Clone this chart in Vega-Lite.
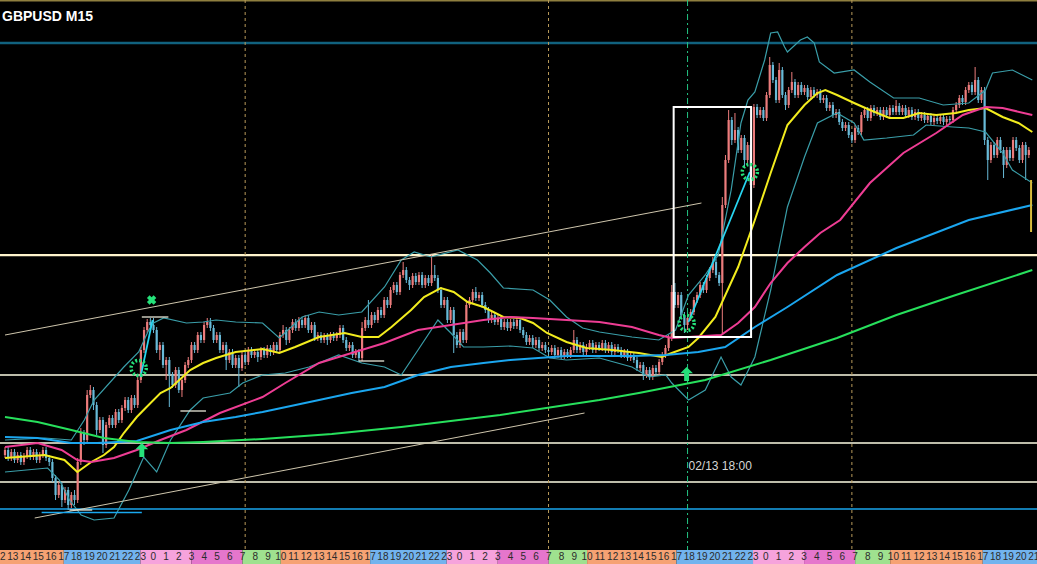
{
"$schema": "https://vega.github.io/schema/vega-lite/v6.json",
"background": "#000000",
"padding": 0,
"spacing": 0,
"config": {"view": {"stroke": null}},
"datasets": {
"candles": [
{"i":0,"o":1.23725,"h":1.23765,"l":1.2371,"c":1.2375},{"i":1,"o":1.2375,"h":1.23765,"l":1.23695,"c":1.2371},{"i":2,"o":1.2371,"h":1.23755,"l":1.23695,"c":1.2374},{"i":3,"o":1.2374,"h":1.23755,"l":1.23685,"c":1.237},{"i":4,"o":1.237,"h":1.2374,"l":1.23685,"c":1.23725},{"i":5,"o":1.23725,"h":1.2374,"l":1.23675,"c":1.2369},{"i":6,"o":1.2369,"h":1.23735,"l":1.23675,"c":1.2372},{"i":7,"o":1.2372,"h":1.23765,"l":1.23705,"c":1.2375},{"i":8,"o":1.2375,"h":1.23765,"l":1.237,"c":1.23715},{"i":9,"o":1.23715,"h":1.23755,"l":1.237,"c":1.2374},
{"i":10,"o":1.2374,"h":1.23755,"l":1.23685,"c":1.237},{"i":11,"o":1.237,"h":1.2374,"l":1.23685,"c":1.23725},{"i":12,"o":1.23725,"h":1.23765,"l":1.2371,"c":1.2375},{"i":13,"o":1.2375,"h":1.23765,"l":1.23695,"c":1.2371},{"i":14,"o":1.2371,"h":1.23725,"l":1.2367,"c":1.2369},{"i":15,"o":1.2369,"h":1.23705,"l":1.2359,"c":1.2361},{"i":16,"o":1.2361,"h":1.23625,"l":1.235,"c":1.23525},{"i":17,"o":1.23525,"h":1.2359,"l":1.2351,"c":1.23575},{"i":18,"o":1.23575,"h":1.2359,"l":1.23465,"c":1.235},{"i":19,"o":1.235,"h":1.23565,"l":1.23485,"c":1.2355},
{"i":20,"o":1.2355,"h":1.23565,"l":1.2345,"c":1.23475},{"i":21,"o":1.23475,"h":1.2354,"l":1.2346,"c":1.23525},{"i":22,"o":1.23525,"h":1.2355,"l":1.23475,"c":1.235},{"i":23,"o":1.235,"h":1.2371,"l":1.23485,"c":1.2369},{"i":24,"o":1.2369,"h":1.2386,"l":1.23675,"c":1.23835},{"i":25,"o":1.23835,"h":1.2385,"l":1.23775,"c":1.238},{"i":26,"o":1.238,"h":1.2405,"l":1.23785,"c":1.24025},{"i":27,"o":1.24025,"h":1.24075,"l":1.2401,"c":1.2405},{"i":28,"o":1.2405,"h":1.24065,"l":1.2395,"c":1.23975},{"i":29,"o":1.23975,"h":1.2399,"l":1.23825,"c":1.2385},
{"i":30,"o":1.2385,"h":1.23915,"l":1.23835,"c":1.239},{"i":31,"o":1.239,"h":1.23915,"l":1.23735,"c":1.23775},{"i":32,"o":1.23775,"h":1.2389,"l":1.2376,"c":1.23875},{"i":33,"o":1.23875,"h":1.23925,"l":1.2386,"c":1.2391},{"i":34,"o":1.2391,"h":1.23925,"l":1.2386,"c":1.23875},{"i":35,"o":1.23875,"h":1.23955,"l":1.2386,"c":1.2394},{"i":36,"o":1.2394,"h":1.23955,"l":1.23885,"c":1.239},{"i":37,"o":1.239,"h":1.23975,"l":1.23885,"c":1.2396},{"i":38,"o":1.2396,"h":1.24015,"l":1.23945,"c":1.24},{"i":39,"o":1.24,"h":1.24015,"l":1.23935,"c":1.2395},
{"i":40,"o":1.2395,"h":1.24025,"l":1.23935,"c":1.2401},{"i":41,"o":1.2401,"h":1.24025,"l":1.2396,"c":1.23975},{"i":42,"o":1.23975,"h":1.24115,"l":1.2396,"c":1.241},{"i":43,"o":1.241,"h":1.24265,"l":1.24085,"c":1.2425},{"i":44,"o":1.2425,"h":1.24365,"l":1.24235,"c":1.2435},{"i":45,"o":1.2435,"h":1.24405,"l":1.24335,"c":1.2439},{"i":46,"o":1.2439,"h":1.2441,"l":1.2436,"c":1.24375},{"i":47,"o":1.24375,"h":1.2441,"l":1.24335,"c":1.2435},{"i":48,"o":1.2435,"h":1.24365,"l":1.24235,"c":1.2425},{"i":49,"o":1.2425,"h":1.2429,"l":1.242,"c":1.24275},
{"i":50,"o":1.24275,"h":1.2429,"l":1.2416,"c":1.24175},{"i":51,"o":1.24175,"h":1.24215,"l":1.241,"c":1.242},{"i":52,"o":1.242,"h":1.24215,"l":1.23965,"c":1.24125},{"i":53,"o":1.24125,"h":1.2414,"l":1.2406,"c":1.24075},{"i":54,"o":1.24075,"h":1.24165,"l":1.2406,"c":1.2415},{"i":55,"o":1.2415,"h":1.24165,"l":1.24035,"c":1.2405},{"i":56,"o":1.2405,"h":1.24115,"l":1.24015,"c":1.241},{"i":57,"o":1.241,"h":1.2419,"l":1.24085,"c":1.24175},{"i":58,"o":1.24175,"h":1.24215,"l":1.2416,"c":1.242},{"i":59,"o":1.242,"h":1.2429,"l":1.24185,"c":1.24275},
{"i":60,"o":1.24275,"h":1.2429,"l":1.24235,"c":1.2425},{"i":61,"o":1.2425,"h":1.2434,"l":1.24235,"c":1.24325},{"i":62,"o":1.24325,"h":1.2434,"l":1.24285,"c":1.243},{"i":63,"o":1.243,"h":1.2439,"l":1.24285,"c":1.24375},{"i":64,"o":1.24375,"h":1.2441,"l":1.2436,"c":1.2439},{"i":65,"o":1.2439,"h":1.2441,"l":1.24345,"c":1.2436},{"i":66,"o":1.2436,"h":1.24375,"l":1.24285,"c":1.243},{"i":67,"o":1.243,"h":1.2434,"l":1.24285,"c":1.24325},{"i":68,"o":1.24325,"h":1.2434,"l":1.24235,"c":1.2425},{"i":69,"o":1.2425,"h":1.2429,"l":1.24235,"c":1.24275},
{"i":70,"o":1.24275,"h":1.2429,"l":1.2415,"c":1.242},{"i":71,"o":1.242,"h":1.24255,"l":1.24185,"c":1.2424},{"i":72,"o":1.2424,"h":1.24255,"l":1.2416,"c":1.24175},{"i":73,"o":1.24175,"h":1.24225,"l":1.2416,"c":1.2421},{"i":74,"o":1.2421,"h":1.24225,"l":1.24065,"c":1.2416},{"i":75,"o":1.2416,"h":1.2424,"l":1.24145,"c":1.24225},{"i":76,"o":1.24225,"h":1.2424,"l":1.24175,"c":1.2419},{"i":77,"o":1.2419,"h":1.24265,"l":1.24175,"c":1.2425},{"i":78,"o":1.2425,"h":1.24265,"l":1.2421,"c":1.24225},{"i":79,"o":1.24225,"h":1.24255,"l":1.2421,"c":1.2424},
{"i":80,"o":1.2424,"h":1.24255,"l":1.2419,"c":1.24215},{"i":81,"o":1.24215,"h":1.24265,"l":1.242,"c":1.2425},{"i":82,"o":1.2425,"h":1.24265,"l":1.2421,"c":1.24225},{"i":83,"o":1.24225,"h":1.24275,"l":1.2421,"c":1.2426},{"i":84,"o":1.2426,"h":1.24275,"l":1.2422,"c":1.2424},{"i":85,"o":1.2424,"h":1.2429,"l":1.24225,"c":1.24275},{"i":86,"o":1.24275,"h":1.2429,"l":1.24235,"c":1.2425},{"i":87,"o":1.2425,"h":1.2434,"l":1.24235,"c":1.24325},{"i":88,"o":1.24325,"h":1.24375,"l":1.2431,"c":1.2435},{"i":89,"o":1.2435,"h":1.24365,"l":1.24275,"c":1.243},
{"i":90,"o":1.243,"h":1.24365,"l":1.24285,"c":1.2435},{"i":91,"o":1.2435,"h":1.24405,"l":1.24335,"c":1.2439},{"i":92,"o":1.2439,"h":1.24405,"l":1.24345,"c":1.2436},{"i":93,"o":1.2436,"h":1.24415,"l":1.24345,"c":1.244},{"i":94,"o":1.244,"h":1.24415,"l":1.2436,"c":1.24375},{"i":95,"o":1.24375,"h":1.24425,"l":1.2436,"c":1.2441},{"i":96,"o":1.2441,"h":1.24425,"l":1.24335,"c":1.2435},{"i":97,"o":1.2435,"h":1.2439,"l":1.24335,"c":1.24375},{"i":98,"o":1.24375,"h":1.2439,"l":1.24295,"c":1.2431},{"i":99,"o":1.2431,"h":1.2434,"l":1.24295,"c":1.24325},
{"i":100,"o":1.24325,"h":1.2434,"l":1.24285,"c":1.243},{"i":101,"o":1.243,"h":1.24335,"l":1.24285,"c":1.2432},{"i":102,"o":1.2432,"h":1.24335,"l":1.24275,"c":1.243},{"i":103,"o":1.243,"h":1.2434,"l":1.24285,"c":1.24325},{"i":104,"o":1.24325,"h":1.2434,"l":1.24295,"c":1.2431},{"i":105,"o":1.2431,"h":1.2434,"l":1.24295,"c":1.24325},{"i":106,"o":1.24325,"h":1.24375,"l":1.2431,"c":1.2436},{"i":107,"o":1.2436,"h":1.24375,"l":1.24285,"c":1.243},{"i":108,"o":1.243,"h":1.24315,"l":1.24245,"c":1.2426},{"i":109,"o":1.2426,"h":1.2429,"l":1.24245,"c":1.24275},
{"i":110,"o":1.24275,"h":1.2429,"l":1.2421,"c":1.24225},{"i":111,"o":1.24225,"h":1.24255,"l":1.2421,"c":1.2424},{"i":112,"o":1.2424,"h":1.24255,"l":1.2419,"c":1.2421},{"i":113,"o":1.2421,"h":1.2439,"l":1.24195,"c":1.2436},{"i":114,"o":1.2436,"h":1.24415,"l":1.24345,"c":1.244},{"i":115,"o":1.244,"h":1.245,"l":1.2436,"c":1.24375},{"i":116,"o":1.24375,"h":1.2444,"l":1.2436,"c":1.24425},{"i":117,"o":1.24425,"h":1.2444,"l":1.24385,"c":1.244},{"i":118,"o":1.244,"h":1.24465,"l":1.24385,"c":1.2445},{"i":119,"o":1.2445,"h":1.24465,"l":1.2441,"c":1.24425},
{"i":120,"o":1.24425,"h":1.24515,"l":1.2441,"c":1.245},{"i":121,"o":1.245,"h":1.24515,"l":1.2446,"c":1.24475},{"i":122,"o":1.24475,"h":1.24565,"l":1.2446,"c":1.2455},{"i":123,"o":1.2455,"h":1.2459,"l":1.24535,"c":1.24575},{"i":124,"o":1.24575,"h":1.2459,"l":1.24525,"c":1.2454},{"i":125,"o":1.2454,"h":1.2464,"l":1.24525,"c":1.24625},{"i":126,"o":1.24625,"h":1.2469,"l":1.2461,"c":1.2465},{"i":127,"o":1.2465,"h":1.24665,"l":1.24585,"c":1.246},{"i":128,"o":1.246,"h":1.24615,"l":1.2455,"c":1.24575},{"i":129,"o":1.24575,"h":1.24635,"l":1.2456,"c":1.2462},
{"i":130,"o":1.2462,"h":1.24635,"l":1.24575,"c":1.2459},{"i":131,"o":1.2459,"h":1.2464,"l":1.24575,"c":1.24625},{"i":132,"o":1.24625,"h":1.2464,"l":1.2456,"c":1.24575},{"i":133,"o":1.24575,"h":1.24625,"l":1.2456,"c":1.2461},{"i":134,"o":1.2461,"h":1.24625,"l":1.2457,"c":1.24585},{"i":135,"o":1.24585,"h":1.24725,"l":1.2457,"c":1.24625},{"i":136,"o":1.24625,"h":1.24675,"l":1.24595,"c":1.2461},{"i":137,"o":1.2461,"h":1.24625,"l":1.24535,"c":1.2455},{"i":138,"o":1.2455,"h":1.24565,"l":1.2446,"c":1.24475},{"i":139,"o":1.24475,"h":1.24515,"l":1.2446,"c":1.245},
{"i":140,"o":1.245,"h":1.24515,"l":1.24385,"c":1.244},{"i":141,"o":1.244,"h":1.24465,"l":1.24385,"c":1.2445},{"i":142,"o":1.2445,"h":1.24465,"l":1.24235,"c":1.24325},{"i":143,"o":1.24325,"h":1.2434,"l":1.2426,"c":1.24275},{"i":144,"o":1.24275,"h":1.24355,"l":1.2426,"c":1.2434},{"i":145,"o":1.2434,"h":1.24355,"l":1.24285,"c":1.243},{"i":146,"o":1.243,"h":1.2449,"l":1.24285,"c":1.24475},{"i":147,"o":1.24475,"h":1.24515,"l":1.2446,"c":1.245},{"i":148,"o":1.245,"h":1.24555,"l":1.24485,"c":1.2454},{"i":149,"o":1.2454,"h":1.24565,"l":1.24495,"c":1.2451},
{"i":150,"o":1.2451,"h":1.2454,"l":1.24495,"c":1.24525},{"i":151,"o":1.24525,"h":1.2454,"l":1.2446,"c":1.24475},{"i":152,"o":1.24475,"h":1.2449,"l":1.24435,"c":1.2445},{"i":153,"o":1.2445,"h":1.24465,"l":1.24385,"c":1.244},{"i":154,"o":1.244,"h":1.2444,"l":1.24385,"c":1.24425},{"i":155,"o":1.24425,"h":1.2444,"l":1.24375,"c":1.2439},{"i":156,"o":1.2439,"h":1.24425,"l":1.24375,"c":1.2441},{"i":157,"o":1.2441,"h":1.24425,"l":1.2435,"c":1.24365},{"i":158,"o":1.24365,"h":1.24405,"l":1.2435,"c":1.2439},{"i":159,"o":1.2439,"h":1.24405,"l":1.24345,"c":1.2436},
{"i":160,"o":1.2436,"h":1.24405,"l":1.24345,"c":1.2439},{"i":161,"o":1.2439,"h":1.24405,"l":1.24355,"c":1.2437},{"i":162,"o":1.2437,"h":1.24415,"l":1.24355,"c":1.244},{"i":163,"o":1.244,"h":1.24415,"l":1.24335,"c":1.2435},{"i":164,"o":1.2435,"h":1.24365,"l":1.2431,"c":1.24325},{"i":165,"o":1.24325,"h":1.2434,"l":1.24275,"c":1.2429},{"i":166,"o":1.2429,"h":1.24325,"l":1.24275,"c":1.2431},{"i":167,"o":1.2431,"h":1.24325,"l":1.2426,"c":1.24275},{"i":168,"o":1.24275,"h":1.24315,"l":1.2426,"c":1.243},{"i":169,"o":1.243,"h":1.24315,"l":1.24245,"c":1.2426},
{"i":170,"o":1.2426,"h":1.2429,"l":1.24245,"c":1.24275},{"i":171,"o":1.24275,"h":1.2429,"l":1.24235,"c":1.2425},{"i":172,"o":1.2425,"h":1.24265,"l":1.24225,"c":1.2424},{"i":173,"o":1.2424,"h":1.24275,"l":1.24225,"c":1.2426},{"i":174,"o":1.2426,"h":1.24275,"l":1.2421,"c":1.24225},{"i":175,"o":1.24225,"h":1.24265,"l":1.2421,"c":1.2425},{"i":176,"o":1.2425,"h":1.24265,"l":1.24205,"c":1.2422},{"i":177,"o":1.2422,"h":1.24255,"l":1.24205,"c":1.2424},{"i":178,"o":1.2424,"h":1.24255,"l":1.2421,"c":1.24225},{"i":179,"o":1.24225,"h":1.24265,"l":1.2421,"c":1.2425},
{"i":180,"o":1.2425,"h":1.2435,"l":1.24235,"c":1.243},{"i":181,"o":1.243,"h":1.24315,"l":1.24235,"c":1.2425},{"i":182,"o":1.2425,"h":1.2429,"l":1.24235,"c":1.24275},{"i":183,"o":1.24275,"h":1.2429,"l":1.24225,"c":1.2424},{"i":184,"o":1.2424,"h":1.2428,"l":1.24225,"c":1.24265},{"i":185,"o":1.24265,"h":1.243,"l":1.2425,"c":1.24285},{"i":186,"o":1.24285,"h":1.243,"l":1.24235,"c":1.2425},{"i":187,"o":1.2425,"h":1.2429,"l":1.24235,"c":1.24275},{"i":188,"o":1.24275,"h":1.2429,"l":1.24245,"c":1.2426},{"i":189,"o":1.2426,"h":1.243,"l":1.24245,"c":1.24285},
{"i":190,"o":1.24285,"h":1.243,"l":1.24235,"c":1.2425},{"i":191,"o":1.2425,"h":1.2429,"l":1.24235,"c":1.24275},{"i":192,"o":1.24275,"h":1.2429,"l":1.24225,"c":1.2424},{"i":193,"o":1.2424,"h":1.2428,"l":1.24225,"c":1.24265},{"i":194,"o":1.24265,"h":1.2428,"l":1.24235,"c":1.2425},{"i":195,"o":1.2425,"h":1.24265,"l":1.2421,"c":1.24225},{"i":196,"o":1.24225,"h":1.24255,"l":1.2421,"c":1.2424},{"i":197,"o":1.2424,"h":1.24255,"l":1.24195,"c":1.2421},{"i":198,"o":1.2421,"h":1.2424,"l":1.24195,"c":1.24225},{"i":199,"o":1.24225,"h":1.2424,"l":1.24185,"c":1.242},
{"i":200,"o":1.242,"h":1.24215,"l":1.24145,"c":1.2416},{"i":201,"o":1.2416,"h":1.2419,"l":1.24145,"c":1.24175},{"i":202,"o":1.24175,"h":1.2419,"l":1.241,"c":1.24125},{"i":203,"o":1.24125,"h":1.24165,"l":1.2411,"c":1.2415},{"i":204,"o":1.2415,"h":1.24165,"l":1.241,"c":1.24115},{"i":205,"o":1.24115,"h":1.24175,"l":1.241,"c":1.2416},{"i":206,"o":1.2416,"h":1.24175,"l":1.24125,"c":1.2414},{"i":207,"o":1.2414,"h":1.24205,"l":1.24125,"c":1.2419},{"i":208,"o":1.2419,"h":1.2424,"l":1.24175,"c":1.24225},{"i":209,"o":1.24225,"h":1.24275,"l":1.2421,"c":1.2426},
{"i":210,"o":1.2426,"h":1.24325,"l":1.24245,"c":1.2431},{"i":211,"o":1.2431,"h":1.24575,"l":1.24295,"c":1.2454},{"i":212,"o":1.2454,"h":1.24585,"l":1.2446,"c":1.24475},{"i":213,"o":1.24475,"h":1.2454,"l":1.2446,"c":1.24525},{"i":214,"o":1.24525,"h":1.2454,"l":1.2441,"c":1.24425},{"i":215,"o":1.24425,"h":1.2444,"l":1.24335,"c":1.24375},{"i":216,"o":1.24375,"h":1.24425,"l":1.2435,"c":1.2441},{"i":217,"o":1.2441,"h":1.24455,"l":1.24395,"c":1.2444},{"i":218,"o":1.2444,"h":1.24515,"l":1.24425,"c":1.245},{"i":219,"o":1.245,"h":1.2454,"l":1.24485,"c":1.24525},
{"i":220,"o":1.24525,"h":1.2459,"l":1.2451,"c":1.24575},{"i":221,"o":1.24575,"h":1.2459,"l":1.24535,"c":1.2455},{"i":222,"o":1.2455,"h":1.24625,"l":1.24535,"c":1.2461},{"i":223,"o":1.2461,"h":1.24665,"l":1.24595,"c":1.2465},{"i":224,"o":1.2465,"h":1.24715,"l":1.24635,"c":1.2469},{"i":225,"o":1.2469,"h":1.24705,"l":1.2461,"c":1.24625},{"i":226,"o":1.24625,"h":1.2464,"l":1.2457,"c":1.24585},{"i":227,"o":1.24585,"h":1.25015,"l":1.24335,"c":1.24975},{"i":228,"o":1.24975,"h":1.25225,"l":1.2496,"c":1.252},{"i":229,"o":1.252,"h":1.2545,"l":1.25185,"c":1.254},
{"i":230,"o":1.254,"h":1.25415,"l":1.25275,"c":1.253},{"i":231,"o":1.253,"h":1.25435,"l":1.25285,"c":1.2535},{"i":232,"o":1.2535,"h":1.25365,"l":1.25235,"c":1.2525},{"i":233,"o":1.2525,"h":1.25325,"l":1.25235,"c":1.2531},{"i":234,"o":1.2531,"h":1.25325,"l":1.25165,"c":1.252},{"i":235,"o":1.252,"h":1.2529,"l":1.25185,"c":1.25275},{"i":236,"o":1.25275,"h":1.25315,"l":1.2505,"c":1.25075},{"i":237,"o":1.25075,"h":1.2548,"l":1.2506,"c":1.25465},{"i":238,"o":1.25465,"h":1.2548,"l":1.2541,"c":1.25425},{"i":239,"o":1.25425,"h":1.25465,"l":1.2541,"c":1.2545},
{"i":240,"o":1.2545,"h":1.25465,"l":1.25395,"c":1.2541},{"i":241,"o":1.2541,"h":1.2554,"l":1.25395,"c":1.25525},{"i":242,"o":1.25525,"h":1.25715,"l":1.2551,"c":1.25675},{"i":243,"o":1.25675,"h":1.2569,"l":1.25585,"c":1.256},{"i":244,"o":1.256,"h":1.25615,"l":1.25485,"c":1.255},{"i":245,"o":1.255,"h":1.25685,"l":1.25485,"c":1.2565},{"i":246,"o":1.2565,"h":1.25665,"l":1.2551,"c":1.25525},{"i":247,"o":1.25525,"h":1.2554,"l":1.2545,"c":1.25475},{"i":248,"o":1.25475,"h":1.25565,"l":1.2546,"c":1.2555},{"i":249,"o":1.2555,"h":1.2564,"l":1.25535,"c":1.2559},
{"i":250,"o":1.2559,"h":1.25605,"l":1.2551,"c":1.25525},{"i":251,"o":1.25525,"h":1.2559,"l":1.2551,"c":1.25575},{"i":252,"o":1.25575,"h":1.2559,"l":1.25525,"c":1.2554},{"i":253,"o":1.2554,"h":1.25575,"l":1.25525,"c":1.2556},{"i":254,"o":1.2556,"h":1.25575,"l":1.255,"c":1.25515},{"i":255,"o":1.25515,"h":1.25565,"l":1.255,"c":1.2555},{"i":256,"o":1.2555,"h":1.25565,"l":1.2551,"c":1.25525},{"i":257,"o":1.25525,"h":1.25555,"l":1.2551,"c":1.2554},{"i":258,"o":1.2554,"h":1.25555,"l":1.25485,"c":1.255},{"i":259,"o":1.255,"h":1.25525,"l":1.25485,"c":1.2551},
{"i":260,"o":1.2551,"h":1.25525,"l":1.25445,"c":1.2546},{"i":261,"o":1.2546,"h":1.2549,"l":1.25445,"c":1.25475},{"i":262,"o":1.25475,"h":1.2549,"l":1.2541,"c":1.25425},{"i":263,"o":1.25425,"h":1.25455,"l":1.2541,"c":1.2544},{"i":264,"o":1.2544,"h":1.25455,"l":1.25375,"c":1.2539},{"i":265,"o":1.2539,"h":1.25405,"l":1.25345,"c":1.2536},{"i":266,"o":1.2536,"h":1.2539,"l":1.25345,"c":1.25375},{"i":267,"o":1.25375,"h":1.2539,"l":1.2531,"c":1.25325},{"i":268,"o":1.25325,"h":1.2534,"l":1.25285,"c":1.253},{"i":269,"o":1.253,"h":1.25375,"l":1.25285,"c":1.2536},
{"i":270,"o":1.2536,"h":1.25375,"l":1.25325,"c":1.2534},{"i":271,"o":1.2534,"h":1.2544,"l":1.25325,"c":1.25425},{"i":272,"o":1.25425,"h":1.25465,"l":1.2541,"c":1.2545},{"i":273,"o":1.2545,"h":1.25465,"l":1.25395,"c":1.2541},{"i":274,"o":1.2541,"h":1.25475,"l":1.25395,"c":1.2546},{"i":275,"o":1.2546,"h":1.25475,"l":1.2542,"c":1.25435},{"i":276,"o":1.25435,"h":1.25465,"l":1.2542,"c":1.2545},{"i":277,"o":1.2545,"h":1.25465,"l":1.254,"c":1.25415},{"i":278,"o":1.25415,"h":1.25465,"l":1.254,"c":1.2545},{"i":279,"o":1.2545,"h":1.25465,"l":1.2541,"c":1.25425},
{"i":280,"o":1.25425,"h":1.25475,"l":1.2541,"c":1.2546},{"i":281,"o":1.2546,"h":1.25475,"l":1.25425,"c":1.2544},{"i":282,"o":1.2544,"h":1.255,"l":1.25425,"c":1.2547},{"i":283,"o":1.2547,"h":1.25485,"l":1.25425,"c":1.2544},{"i":284,"o":1.2544,"h":1.25475,"l":1.25425,"c":1.2546},{"i":285,"o":1.2546,"h":1.25475,"l":1.2541,"c":1.25425},{"i":286,"o":1.25425,"h":1.25465,"l":1.2541,"c":1.2545},{"i":287,"o":1.2545,"h":1.25465,"l":1.254,"c":1.25415},{"i":288,"o":1.25415,"h":1.25455,"l":1.254,"c":1.2544},{"i":289,"o":1.2544,"h":1.25455,"l":1.25395,"c":1.2541},
{"i":290,"o":1.2541,"h":1.2544,"l":1.25395,"c":1.25425},{"i":291,"o":1.25425,"h":1.2544,"l":1.25385,"c":1.254},{"i":292,"o":1.254,"h":1.25435,"l":1.25385,"c":1.2542},{"i":293,"o":1.2542,"h":1.25435,"l":1.25375,"c":1.2539},{"i":294,"o":1.2539,"h":1.25425,"l":1.25375,"c":1.2541},{"i":295,"o":1.2541,"h":1.25425,"l":1.2538,"c":1.25395},{"i":296,"o":1.25395,"h":1.2543,"l":1.2538,"c":1.25415},{"i":297,"o":1.25415,"h":1.2543,"l":1.25375,"c":1.2539},{"i":298,"o":1.2539,"h":1.2542,"l":1.25375,"c":1.25405},{"i":299,"o":1.25405,"h":1.2542,"l":1.25385,"c":1.254},
{"i":300,"o":1.254,"h":1.25465,"l":1.25385,"c":1.2545},{"i":301,"o":1.2545,"h":1.2549,"l":1.25435,"c":1.25475},{"i":302,"o":1.25475,"h":1.25525,"l":1.2546,"c":1.2551},{"i":303,"o":1.2551,"h":1.25525,"l":1.25475,"c":1.2549},{"i":304,"o":1.2549,"h":1.25565,"l":1.25475,"c":1.2555},{"i":305,"o":1.2555,"h":1.2559,"l":1.25535,"c":1.25575},{"i":306,"o":1.25575,"h":1.2559,"l":1.25525,"c":1.2554},{"i":307,"o":1.2554,"h":1.25665,"l":1.25525,"c":1.256},{"i":308,"o":1.256,"h":1.25615,"l":1.25485,"c":1.255},{"i":309,"o":1.255,"h":1.25565,"l":1.25485,"c":1.2555},
{"i":310,"o":1.2555,"h":1.25565,"l":1.25275,"c":1.253},{"i":311,"o":1.253,"h":1.25315,"l":1.251,"c":1.252},{"i":312,"o":1.252,"h":1.2529,"l":1.25185,"c":1.25275},{"i":313,"o":1.25275,"h":1.2529,"l":1.2521,"c":1.25225},{"i":314,"o":1.25225,"h":1.25315,"l":1.2521,"c":1.253},{"i":315,"o":1.253,"h":1.25315,"l":1.25235,"c":1.2525},{"i":316,"o":1.2525,"h":1.25265,"l":1.2511,"c":1.25175},{"i":317,"o":1.25175,"h":1.25265,"l":1.2516,"c":1.2525},{"i":318,"o":1.2525,"h":1.25265,"l":1.25195,"c":1.2521},{"i":319,"o":1.2521,"h":1.25315,"l":1.25195,"c":1.253},
{"i":320,"o":1.253,"h":1.25315,"l":1.25245,"c":1.2526},{"i":321,"o":1.2526,"h":1.25275,"l":1.25185,"c":1.252},{"i":322,"o":1.252,"h":1.2529,"l":1.25185,"c":1.25275},{"i":323,"o":1.25275,"h":1.2529,"l":1.251,"c":1.25225},{"i":324,"o":1.25225,"h":1.25265,"l":1.2521,"c":1.2525}
],
"lines": [
{"s":"ma20","b":0,"p":1.2371},{"s":"ma20","b":12.5,"p":1.23725},{"s":"ma20","b":18.8,"p":1.237},{"s":"ma20","b":22.9,"p":1.2364},{"s":"ma20","b":27.3,"p":1.2369},{"s":"ma20","b":31.3,"p":1.23725},{"s":"ma20","b":34.5,"p":1.23765},{"s":"ma20","b":37.6,"p":1.23835},{"s":"ma20","b":41.7,"p":1.23915},{"s":"ma20","b":44.8,"p":1.23965},{"s":"ma20","b":49.2,"p":1.24035},{"s":"ma20","b":52.4,"p":1.2406},{"s":"ma20","b":58.6,"p":1.2415},{"s":"ma20","b":62.7,"p":1.24185},{"s":"ma20","b":66.8,"p":1.2421},{"s":"ma20","b":73.0,"p":1.2424},{"s":"ma20","b":81.5,"p":1.24255},{"s":"ma20","b":86.8,"p":1.24235},{"s":"ma20","b":91.8,"p":1.24265},{"s":"ma20","b":99.4,"p":1.24315},{"s":"ma20","b":107.5,"p":1.24335},{"s":"ma20","b":112.9,"p":1.24315},{"s":"ma20","b":118.2,"p":1.24315},{"s":"ma20","b":122.3,"p":1.24365},{"s":"ma20","b":128.5,"p":1.2445},{"s":"ma20","b":132.6,"p":1.24515},{"s":"ma20","b":137.9,"p":1.2456},{"s":"ma20","b":142.0,"p":1.2454},{"s":"ma20","b":146.4,"p":1.2449},{"s":"ma20","b":151.4,"p":1.24465},{"s":"ma20","b":157.7,"p":1.24415},{"s":"ma20","b":163.0,"p":1.2441},{"s":"ma20","b":167.1,"p":1.24385},{"s":"ma20","b":171.5,"p":1.24335},{"s":"ma20","b":177.7,"p":1.2429},{"s":"ma20","b":184.0,"p":1.2426},{"s":"ma20","b":192.2,"p":1.2425},{"s":"ma20","b":200.6,"p":1.24235},{"s":"ma20","b":207.8,"p":1.24215},{"s":"ma20","b":211.0,"p":1.24235},{"s":"ma20","b":216.3,"p":1.24265},{"s":"ma20","b":219.4,"p":1.2431},{"s":"ma20","b":224.8,"p":1.24415},{"s":"ma20","b":232.0,"p":1.24665},{"s":"ma20","b":237.3,"p":1.249},{"s":"ma20","b":242.3,"p":1.25135},{"s":"ma20","b":247.6,"p":1.25375},{"s":"ma20","b":253.0,"p":1.25475},{"s":"ma20","b":257.1,"p":1.25535},{"s":"ma20","b":259.6,"p":1.2555},{"s":"ma20","b":263.3,"p":1.25525},{"s":"ma20","b":268.7,"p":1.25485},{"s":"ma20","b":273.7,"p":1.2545},{"s":"ma20","b":279.9,"p":1.2541},{"s":"ma20","b":284.3,"p":1.2541},{"s":"ma20","b":289.3,"p":1.25435},{"s":"ma20","b":294.7,"p":1.25425},{"s":"ma20","b":300.9,"p":1.25435},{"s":"ma20","b":305.0,"p":1.2545},{"s":"ma20","b":310.3,"p":1.2546},{"s":"ma20","b":315.7,"p":1.25415},{"s":"ma20","b":320.7,"p":1.25385},{"s":"ma20","b":325.1,"p":1.2534},
{"s":"ma50","b":0,"p":1.23765},{"s":"ma50","b":10.3,"p":1.23785},{"s":"ma50","b":17.9,"p":1.2375},{"s":"ma50","b":22.9,"p":1.237},{"s":"ma50","b":27.3,"p":1.2369},{"s":"ma50","b":34.5,"p":1.2371},{"s":"ma50","b":41.7,"p":1.2375},{"s":"ma50","b":49.2,"p":1.238},{"s":"ma50","b":57.4,"p":1.2385},{"s":"ma50","b":68.0,"p":1.23935},{"s":"ma50","b":81.5,"p":1.24015},{"s":"ma50","b":88.7,"p":1.24085},{"s":"ma50","b":99.4,"p":1.24185},{"s":"ma50","b":109.7,"p":1.24235},{"s":"ma50","b":120.1,"p":1.24285},{"s":"ma50","b":130.7,"p":1.2435},{"s":"ma50","b":141.1,"p":1.24375},{"s":"ma50","b":151.4,"p":1.244},{"s":"ma50","b":159.9,"p":1.24415},{"s":"ma50","b":167.1,"p":1.2441},{"s":"ma50","b":177.7,"p":1.244},{"s":"ma50","b":188.1,"p":1.2439},{"s":"ma50","b":198.4,"p":1.24365},{"s":"ma50","b":206.9,"p":1.24325},{"s":"ma50","b":211.0,"p":1.2431},{"s":"ma50","b":226.6,"p":1.24325},{"s":"ma50","b":232.0,"p":1.24385},{"s":"ma50","b":237.3,"p":1.24465},{"s":"ma50","b":242.3,"p":1.24585},{"s":"ma50","b":247.6,"p":1.24685},{"s":"ma50","b":253.0,"p":1.24765},{"s":"ma50","b":258.0,"p":1.24835},{"s":"ma50","b":264.3,"p":1.249},{"s":"ma50","b":273.7,"p":1.25085},{"s":"ma50","b":284.3,"p":1.25235},{"s":"ma50","b":294.7,"p":1.25335},{"s":"ma50","b":303.1,"p":1.25425},{"s":"ma50","b":310.3,"p":1.25465},{"s":"ma50","b":315.7,"p":1.2546},{"s":"ma50","b":325.1,"p":1.25425},
{"s":"ma100","b":0,"p":1.23815},{"s":"ma100","b":10.3,"p":1.2381},{"s":"ma100","b":21.0,"p":1.23785},{"s":"ma100","b":29.2,"p":1.23785},{"s":"ma100","b":41.7,"p":1.23795},{"s":"ma100","b":52.4,"p":1.2385},{"s":"ma100","b":62.7,"p":1.2389},{"s":"ma100","b":73.0,"p":1.23915},{"s":"ma100","b":81.5,"p":1.2394},{"s":"ma100","b":99.4,"p":1.24},{"s":"ma100","b":109.7,"p":1.24035},{"s":"ma100","b":120.1,"p":1.24065},{"s":"ma100","b":130.7,"p":1.24125},{"s":"ma100","b":141.1,"p":1.24165},{"s":"ma100","b":151.4,"p":1.24185},{"s":"ma100","b":159.9,"p":1.242},{"s":"ma100","b":177.7,"p":1.2422},{"s":"ma100","b":198.4,"p":1.2422},{"s":"ma100","b":209.1,"p":1.24225},{"s":"ma100","b":219.4,"p":1.2424},{"s":"ma100","b":227.9,"p":1.24265},{"s":"ma100","b":237.3,"p":1.24365},{"s":"ma100","b":247.6,"p":1.24465},{"s":"ma100","b":263.3,"p":1.24625},{"s":"ma100","b":282.1,"p":1.2476},{"s":"ma100","b":305.0,"p":1.249},{"s":"ma100","b":325.1,"p":1.24975},
{"s":"ma200","b":0,"p":1.23915},{"s":"ma200","b":10.3,"p":1.2389},{"s":"ma200","b":21.0,"p":1.2385},{"s":"ma200","b":31.3,"p":1.2381},{"s":"ma200","b":41.7,"p":1.2379},{"s":"ma200","b":52.4,"p":1.23785},{"s":"ma200","b":62.7,"p":1.2379},{"s":"ma200","b":81.5,"p":1.23805},{"s":"ma200","b":103.4,"p":1.2383},{"s":"ma200","b":125.4,"p":1.23865},{"s":"ma200","b":156.7,"p":1.23925},{"s":"ma200","b":188.1,"p":1.24},{"s":"ma200","b":200.6,"p":1.24035},{"s":"ma200","b":221.6,"p":1.241},{"s":"ma200","b":242.3,"p":1.242},{"s":"ma200","b":263.3,"p":1.2431},{"s":"ma200","b":282.1,"p":1.24425},{"s":"ma200","b":300.9,"p":1.24525},{"s":"ma200","b":325.1,"p":1.2465},
{"s":"bbu","b":0,"p":1.238},{"s":"bbu","b":12.5,"p":1.2381},{"s":"bbu","b":21.0,"p":1.238},{"s":"bbu","b":25.1,"p":1.239},{"s":"bbu","b":28.2,"p":1.24},{"s":"bbu","b":37.6,"p":1.24165},{"s":"bbu","b":42.3,"p":1.2424},{"s":"bbu","b":45.5,"p":1.2435},{"s":"bbu","b":47.0,"p":1.24385},{"s":"bbu","b":50.2,"p":1.2441},{"s":"bbu","b":57.4,"p":1.24385},{"s":"bbu","b":62.7,"p":1.2439},{"s":"bbu","b":66.8,"p":1.244},{"s":"bbu","b":73.0,"p":1.2439},{"s":"bbu","b":81.5,"p":1.24385},{"s":"bbu","b":86.8,"p":1.2431},{"s":"bbu","b":94.0,"p":1.24415},{"s":"bbu","b":99.4,"p":1.2444},{"s":"bbu","b":105.6,"p":1.24425},{"s":"bbu","b":112.9,"p":1.2444},{"s":"bbu","b":120.1,"p":1.24565},{"s":"bbu","b":125.4,"p":1.247},{"s":"bbu","b":129.5,"p":1.2474},{"s":"bbu","b":134.8,"p":1.24715},{"s":"bbu","b":143.3,"p":1.2475},{"s":"bbu","b":149.5,"p":1.247},{"s":"bbu","b":153.6,"p":1.24635},{"s":"bbu","b":157.7,"p":1.2456},{"s":"bbu","b":167.1,"p":1.2455},{"s":"bbu","b":172.4,"p":1.245},{"s":"bbu","b":177.7,"p":1.24415},{"s":"bbu","b":182.8,"p":1.2436},{"s":"bbu","b":188.1,"p":1.2434},{"s":"bbu","b":198.4,"p":1.24315},{"s":"bbu","b":206.9,"p":1.243},{"s":"bbu","b":212.2,"p":1.2435},{"s":"bbu","b":216.3,"p":1.24525},{"s":"bbu","b":221.6,"p":1.24625},{"s":"bbu","b":225.7,"p":1.24725},{"s":"bbu","b":229.8,"p":1.2505},{"s":"bbu","b":232.9,"p":1.25385},{"s":"bbu","b":235.1,"p":1.255},{"s":"bbu","b":237.3,"p":1.2554},{"s":"bbu","b":240.4,"p":1.257},{"s":"bbu","b":242.3,"p":1.25835},{"s":"bbu","b":244.5,"p":1.2584},{"s":"bbu","b":246.7,"p":1.25765},{"s":"bbu","b":247.6,"p":1.2574},{"s":"bbu","b":251.7,"p":1.258},{"s":"bbu","b":253.9,"p":1.25815},{"s":"bbu","b":256.1,"p":1.25785},{"s":"bbu","b":257.7,"p":1.2569},{"s":"bbu","b":262.4,"p":1.25635},{"s":"bbu","b":268.7,"p":1.2565},{"s":"bbu","b":273.7,"p":1.2559},{"s":"bbu","b":281.2,"p":1.2551},{"s":"bbu","b":289.3,"p":1.2551},{"s":"bbu","b":296.9,"p":1.25475},{"s":"bbu","b":305.0,"p":1.25485},{"s":"bbu","b":310.3,"p":1.2555},{"s":"bbu","b":312.5,"p":1.25635},{"s":"bbu","b":318.8,"p":1.2565},{"s":"bbu","b":325.1,"p":1.256},
{"s":"bbl","b":0,"p":1.2364},{"s":"bbl","b":13.5,"p":1.2366},{"s":"bbl","b":17.2,"p":1.236},{"s":"bbl","b":20.4,"p":1.235},{"s":"bbl","b":24.1,"p":1.23425},{"s":"bbl","b":28.2,"p":1.234},{"s":"bbl","b":34.5,"p":1.2341},{"s":"bbl","b":39.2,"p":1.2355},{"s":"bbl","b":43.9,"p":1.23715},{"s":"bbl","b":48.0,"p":1.2364},{"s":"bbl","b":52.4,"p":1.238},{"s":"bbl","b":58.6,"p":1.2395},{"s":"bbl","b":62.7,"p":1.2401},{"s":"bbl","b":71.2,"p":1.24035},{"s":"bbl","b":75.2,"p":1.24085},{"s":"bbl","b":81.5,"p":1.24125},{"s":"bbl","b":88.7,"p":1.24135},{"s":"bbl","b":96.2,"p":1.24165},{"s":"bbl","b":105.6,"p":1.24225},{"s":"bbl","b":112.9,"p":1.24185},{"s":"bbl","b":120.1,"p":1.24165},{"s":"bbl","b":125.4,"p":1.24125},{"s":"bbl","b":130.7,"p":1.2425},{"s":"bbl","b":137.0,"p":1.244},{"s":"bbl","b":141.1,"p":1.24335},{"s":"bbl","b":145.1,"p":1.24265},{"s":"bbl","b":151.4,"p":1.24265},{"s":"bbl","b":159.9,"p":1.2427},{"s":"bbl","b":167.1,"p":1.2426},{"s":"bbl","b":172.4,"p":1.2421},{"s":"bbl","b":177.7,"p":1.242},{"s":"bbl","b":188.1,"p":1.2421},{"s":"bbl","b":198.4,"p":1.24165},{"s":"bbl","b":203.8,"p":1.24115},{"s":"bbl","b":209.1,"p":1.24125},{"s":"bbl","b":211.0,"p":1.24085},{"s":"bbl","b":216.3,"p":1.24},{"s":"bbl","b":221.6,"p":1.2405},{"s":"bbl","b":226.6,"p":1.24215},{"s":"bbl","b":229.8,"p":1.24115},{"s":"bbl","b":232.9,"p":1.24075},{"s":"bbl","b":237.3,"p":1.24215},{"s":"bbl","b":242.3,"p":1.2455},{"s":"bbl","b":247.6,"p":1.24965},{"s":"bbl","b":253.0,"p":1.25215},{"s":"bbl","b":257.1,"p":1.25385},{"s":"bbl","b":263.3,"p":1.25435},{"s":"bbl","b":268.7,"p":1.25385},{"s":"bbl","b":271.8,"p":1.253},{"s":"bbl","b":279.0,"p":1.2531},{"s":"bbl","b":287.5,"p":1.25325},{"s":"bbl","b":291.5,"p":1.25375},{"s":"bbl","b":300.0,"p":1.25365},{"s":"bbl","b":305.0,"p":1.2536},{"s":"bbl","b":310.3,"p":1.2534},{"s":"bbl","b":315.7,"p":1.25235},{"s":"bbl","b":318.8,"p":1.2515},{"s":"bbl","b":325.1,"p":1.25085}
],
"levels": [
{"kind":"frame","p":1.26},{"kind":"resistance","p":1.25785},{"kind":"pivot","p":1.24725},{"kind":"level","p":1.24125},{"kind":"level","p":1.23785},{"kind":"level","p":1.2359},{"kind":"support","p":1.23455}
],
"vlines": [
{"kind":"day","b":76},{"kind":"day","b":172},{"kind":"day","b":268},{"kind":"now","b":216}
],
"segments": [
{"kind":"trend","b1":0,"p1":1.24325,"b2":220.4,"p2":1.24985},
{"kind":"trend","b1":9.4,"p1":1.2341,"b2":183.4,"p2":1.23935},
{"kind":"swing","b1":43.3,"p1":1.24415,"b2":51.7,"p2":1.24415},
{"kind":"swing","b1":55.5,"p1":1.23945,"b2":63.6,"p2":1.23945},
{"kind":"swing","b1":111.9,"p1":1.24195,"b2":120.0,"p2":1.24195},
{"kind":"swing","b1":20.4,"p1":1.2345,"b2":27.6,"p2":1.2345},
{"kind":"low","b1":11.6,"p1":1.234375,"b2":43.3,"p2":1.234375},
{"kind":"signal","b1":42.9,"p1":1.24115,"b2":46.7,"p2":1.244},
{"kind":"signal","b1":216.3,"p1":1.2439,"b2":235.7,"p2":1.2514},
{"kind":"tick","b1":324.7,"p1":1.251,"b2":324.7,"p2":1.2484}
],
"boxes": [{"b1":211.6,"p1":1.25465,"b2":236.1,"p2":1.24315}],
"markers": [
{"kind":"x","b":46.4,"p":1.245},
{"kind":"gear","b":42.3,"p":1.2416},{"kind":"gear","b":215.7,"p":1.24385},{"kind":"gear","b":235.7,"p":1.2514},
{"kind":"arrow","b":43.3,"p":1.2375},{"kind":"arrow","b":215.7,"p":1.2413}
],
"labels": [{"b":216.3,"p":1.2367,"t":"02/13 18:00"}],
"sessions": [
{"from":-4,"to":20,"session":"day"},{"from":20,"to":44,"session":"evening"},{"from":44,"to":60,"session":"night"},{"from":60,"to":76,"session":"asia"},{"from":76,"to":88,"session":"open"},
{"from":88,"to":116,"session":"day"},{"from":116,"to":140,"session":"evening"},{"from":140,"to":156,"session":"night"},{"from":156,"to":172,"session":"asia"},{"from":172,"to":184,"session":"open"},
{"from":184,"to":212,"session":"day"},{"from":212,"to":236,"session":"evening"},{"from":236,"to":252,"session":"night"},{"from":252,"to":268,"session":"asia"},{"from":268,"to":279,"session":"open"},
{"from":279,"to":308,"session":"day"},{"from":308,"to":330,"session":"evening"}
],
"hours": [
{"b":0,"h":"12"},{"b":4,"h":"13"},{"b":8,"h":"14"},{"b":12,"h":"15"},{"b":16,"h":"16"},{"b":20,"h":"17"},{"b":24,"h":"18"},{"b":28,"h":"19"},{"b":32,"h":"20"},{"b":36,"h":"21"},{"b":40,"h":"22"},{"b":44,"h":"23"},{"b":48,"h":"0"},{"b":52,"h":"1"},{"b":56,"h":"2"},{"b":60,"h":"3"},{"b":64,"h":"4"},{"b":68,"h":"5"},{"b":72,"h":"6"},{"b":76,"h":"7"},{"b":80,"h":"8"},{"b":84,"h":"9"},{"b":88,"h":"10"},{"b":92,"h":"11"},{"b":96,"h":"12"},{"b":100,"h":"13"},{"b":104,"h":"14"},{"b":108,"h":"15"},{"b":112,"h":"16"},{"b":116,"h":"17"},{"b":120,"h":"18"},{"b":124,"h":"19"},{"b":128,"h":"20"},{"b":132,"h":"21"},{"b":136,"h":"22"},{"b":140,"h":"23"},{"b":144,"h":"0"},{"b":148,"h":"1"},{"b":152,"h":"2"},{"b":156,"h":"3"},{"b":160,"h":"4"},{"b":164,"h":"5"},{"b":168,"h":"6"},{"b":172,"h":"7"},{"b":176,"h":"8"},{"b":180,"h":"9"},{"b":184,"h":"10"},{"b":188,"h":"11"},{"b":192,"h":"12"},{"b":196,"h":"13"},{"b":200,"h":"14"},{"b":204,"h":"15"},{"b":208,"h":"16"},{"b":212,"h":"17"},{"b":216,"h":"18"},{"b":220,"h":"19"},{"b":224,"h":"20"},{"b":228,"h":"21"},{"b":232,"h":"22"},{"b":236,"h":"23"},{"b":240,"h":"0"},{"b":244,"h":"1"},{"b":248,"h":"2"},{"b":252,"h":"3"},{"b":256,"h":"4"},{"b":260,"h":"5"},{"b":264,"h":"6"},{"b":268,"h":"7"},{"b":272,"h":"8"},{"b":276,"h":"9"},{"b":280,"h":"10"},{"b":284,"h":"11"},{"b":288,"h":"12"},{"b":292,"h":"13"},{"b":296,"h":"14"},{"b":300,"h":"15"},{"b":304,"h":"16"},{"b":308,"h":"17"},{"b":312,"h":"18"},{"b":316,"h":"19"},{"b":320,"h":"20"},{"b":324,"h":"21"}
]
},
"vconcat": [
{
"width": 1037,
"height": 550,
"title": {"text": "GBPUSD M15", "anchor": "start", "orient": "top", "offset": -24, "dx": 2, "color": "#ffffff", "font": "Liberation Sans", "fontSize": 14, "fontWeight": "bold"},
"resolve": {"scale": {"color": "independent", "strokeWidth": "independent"}},
"layer": [
{"data": {"name": "levels"}, "mark": {"type": "rule", "clip": true},
 "encoding": {
  "y": {"field": "p", "type": "quantitative", "scale": {"domain": [1.2325, 1.26], "nice": false, "zero": false}, "axis": null},
  "color": {"field": "kind", "type": "nominal", "scale": {"domain": ["frame", "resistance", "pivot", "level", "support"], "range": ["#8f7f3f", "#11627f", "#fff4cc", "#bdbcaa", "#18a6ee"]}, "legend": null},
  "strokeWidth": {"field": "kind", "type": "nominal", "scale": {"domain": ["frame", "resistance", "pivot", "level", "support"], "range": [3, 1.5, 2.5, 1.5, 3]}, "legend": null}}},
{"data": {"name": "vlines"}, "transform": [{"filter": "datum.kind === 'day'"}], "mark": {"type": "rule", "color": "#b89a5a", "strokeDash": [3, 3], "strokeWidth": 1, "clip": true},
 "encoding": {"x": {"field": "b", "type": "quantitative", "scale": {"domain": [0, 325], "nice": false, "zero": false}, "axis": null}}},
{"data": {"name": "vlines"}, "transform": [{"filter": "datum.kind === 'now'"}], "mark": {"type": "rule", "color": "#23c483", "strokeDash": [6, 3, 2, 3], "strokeWidth": 1, "clip": true},
 "encoding": {"x": {"field": "b", "type": "quantitative", "axis": null}}},
{"data": {"name": "candles"}, "mark": {"type": "rule", "strokeWidth": 1, "clip": true},
 "encoding": {
  "x": {"field": "i", "type": "quantitative", "axis": null},
  "y": {"field": "l", "type": "quantitative", "axis": null},
  "y2": {"field": "h"},
  "color": {"condition": {"test": "datum.c >= datum.o", "value": "#ec7c7c"}, "value": "#68bad8"}}},
{"data": {"name": "candles"}, "mark": {"type": "bar", "width": 2.2, "clip": true},
 "encoding": {
  "x": {"field": "i", "type": "quantitative", "axis": null},
  "y": {"field": "o", "type": "quantitative", "axis": null},
  "y2": {"field": "c"},
  "color": {"condition": {"test": "datum.c >= datum.o", "value": "#ec7c7c"}, "value": "#68bad8"}}},
{"data": {"name": "lines"}, "transform": [{"filter": "datum.s === 'bbu' || datum.s === 'bbl'"}], "mark": {"type": "line", "strokeWidth": 1.2, "color": "#3a9ea9", "clip": true},
 "encoding": {
  "x": {"field": "b", "type": "quantitative", "axis": null},
  "y": {"field": "p", "type": "quantitative", "axis": null},
  "detail": {"field": "s", "type": "nominal"}}},
{"data": {"name": "lines"}, "transform": [{"filter": "datum.s !== 'bbu' && datum.s !== 'bbl'"}], "mark": {"type": "line", "strokeWidth": 2, "clip": true},
 "encoding": {
  "x": {"field": "b", "type": "quantitative", "axis": null},
  "y": {"field": "p", "type": "quantitative", "axis": null},
  "color": {"field": "s", "type": "nominal", "scale": {"domain": ["ma20", "ma50", "ma100", "ma200"], "range": ["#f2ec1e", "#ee3d94", "#1ba6ef", "#27e05c"]}, "legend": null}}},
{"data": {"name": "segments"}, "mark": {"type": "rule", "clip": true},
 "encoding": {
  "x": {"field": "b1", "type": "quantitative", "axis": null},
  "x2": {"field": "b2"},
  "y": {"field": "p1", "type": "quantitative", "axis": null},
  "y2": {"field": "p2"},
  "color": {"field": "kind", "type": "nominal", "scale": {"domain": ["trend", "swing", "low", "signal", "tick"], "range": ["#cfc6ad", "#f2f0e0", "#1aa8ef", "#28d6f2", "#d8bc3c"]}, "legend": null},
  "strokeWidth": {"field": "kind", "type": "nominal", "scale": {"domain": ["trend", "swing", "low", "signal", "tick"], "range": [1, 2, 3, 3, 2]}, "legend": null}}},
{"data": {"name": "boxes"}, "mark": {"type": "rect", "fillOpacity": 0, "stroke": "#ffffff", "strokeWidth": 2, "clip": true},
 "encoding": {
  "x": {"field": "b1", "type": "quantitative", "axis": null},
  "x2": {"field": "b2"},
  "y": {"field": "p1", "type": "quantitative", "axis": null},
  "y2": {"field": "p2"}}},
{"data": {"name": "markers"}, "transform": [{"filter": "datum.kind === 'x'"}], "mark": {"type": "point", "shape": "cross", "angle": 45, "filled": true, "size": 90, "color": "#25e27a", "opacity": 1},
 "encoding": {"x": {"field": "b", "type": "quantitative", "axis": null}, "y": {"field": "p", "type": "quantitative", "axis": null}}},
{"data": {"name": "markers"}, "transform": [{"filter": "datum.kind === 'gear'"}], "mark": {"type": "point", "shape": "circle", "filled": false, "size": 230, "stroke": "#25e27a", "strokeWidth": 3.5, "strokeDash": [2, 2], "opacity": 1},
 "encoding": {"x": {"field": "b", "type": "quantitative", "axis": null}, "y": {"field": "p", "type": "quantitative", "axis": null}}},
{"data": {"name": "markers"}, "transform": [{"filter": "datum.kind === 'arrow'"}], "mark": {"type": "point", "shape": "M0,-1L0.9,-0.1L0.35,-0.1L0.35,1L-0.35,1L-0.35,-0.1L-0.9,-0.1Z", "filled": true, "size": 200, "color": "#25e27a", "opacity": 1},
 "encoding": {"x": {"field": "b", "type": "quantitative", "axis": null}, "y": {"field": "p", "type": "quantitative", "axis": null}}},
{"data": {"name": "labels"}, "mark": {"type": "text", "align": "left", "baseline": "middle", "color": "#d6d6d6", "font": "Liberation Sans", "fontSize": 12},
 "encoding": {"x": {"field": "b", "type": "quantitative", "axis": null}, "y": {"field": "p", "type": "quantitative", "axis": null}, "text": {"field": "t"}}}
]
},
{
"width": 1037,
"height": 14,
"layer": [
{"data": {"name": "sessions"}, "mark": {"type": "rect", "clip": true},
 "encoding": {
  "x": {"field": "from", "type": "quantitative", "scale": {"domain": [0, 325], "nice": false, "zero": false}, "axis": null},
  "x2": {"field": "to"},
  "color": {"field": "session", "type": "nominal", "scale": {"domain": ["day", "evening", "night", "asia", "open"], "range": ["#f6a273", "#72b3ee", "#f6a3dc", "#e576cc", "#9fe18f"]}, "legend": null}}},
{"data": {"name": "hours"}, "mark": {"type": "text", "fontSize": 10, "font": "Liberation Sans", "color": "#2b2b2b", "baseline": "middle", "clip": true},
 "encoding": {
  "x": {"field": "b", "type": "quantitative", "axis": null},
  "text": {"field": "h"}}}
]
}
]
}
